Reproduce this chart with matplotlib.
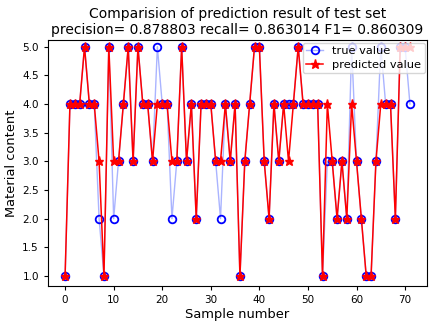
import numpy as np
import matplotlib
matplotlib.use('Agg')
import matplotlib.pyplot as plt

# values
y_true = [1, 4, 4, 4, 5, 4, 4, 2, 1, 5,
          2, 3, 4, 5, 3, 5, 4, 4, 3, 5,
          4, 4, 2, 3, 5, 3, 4, 2, 4, 4,
          4, 3, 2, 4, 3, 4, 1, 3, 4, 5,
          5, 3, 2, 4, 3, 4, 4, 4, 5, 4,
          4, 4, 4, 1, 3, 3, 2, 3, 2, 5,
          3, 2, 1, 1, 3, 5, 4, 4, 2, 5,
          5, 4]
y_pred = [1, 4, 4, 4, 5, 4, 4, 3, 1, 5,
          3, 3, 4, 5, 3, 5, 4, 4, 3, 4,
          4, 4, 3, 3, 5, 3, 4, 2, 4, 4,
          4, 3, 3, 4, 3, 4, 1, 3, 4, 5,
          5, 3, 2, 4, 3, 4, 3, 4, 5, 4,
          4, 4, 4, 1, 4, 3, 2, 3, 2, 4,
          3, 2, 1, 1, 3, 4, 4, 4, 2, 5,
          5, 5]
precision = 0.878803
recall = 0.863014
f1 = 0.860309

x = np.arange(len(y_true))

fig = plt.figure(figsize=(4.35, 3.25), dpi=100)
ax = fig.add_axes([0.11, 0.12, 0.872, 0.7554])
ax.plot(x, y_true, color='#aab4ff', lw=1.0, marker='o', mfc='none', mec='blue',
        mew=1.3, ms=5.5, label='true value')
ax.plot(x, y_pred, color='red', lw=1.1, marker='*', ms=6.5, label='predicted value')
ax.set_ylim(0.825, 5.108)
ax.set_title('Comparision of prediction result of test set\n'
             'precision= %f recall= %f F1= %f' % (precision, recall, f1),
             fontsize=10, linespacing=1.15, pad=5)
ax.set_xlabel('Sample number', fontsize=9.4, labelpad=2)
ax.set_ylabel('Material content', fontsize=9.4, labelpad=3)
ax.tick_params(labelsize=7.5, length=3)
ax.legend(loc='upper right', fontsize=8.2, borderaxespad=0.2,
          handlelength=1.5, borderpad=0.3, labelspacing=0.3)
plt.savefig('out.png', dpi=100)
